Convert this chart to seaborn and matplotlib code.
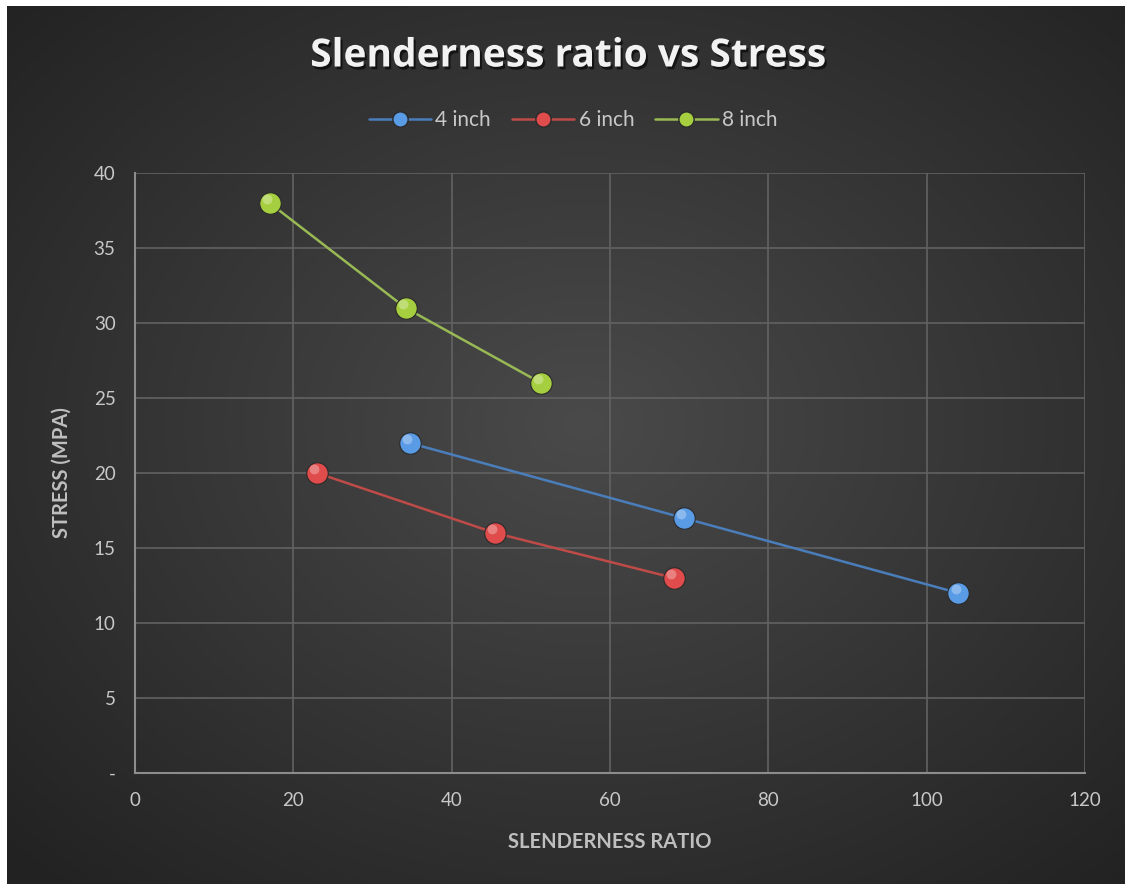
import numpy as np
import pandas as pd
import matplotlib
matplotlib.use("Agg")
import matplotlib.pyplot as plt
import matplotlib.patheffects as pe
from matplotlib.patches import Rectangle
import seaborn as sns

# ---- data ----
series_names = ["4 inch", "6 inch", "8 inch"]
x_4in = [34.7, 69.3, 104.0]
y_4in = [22.0, 17.0, 12.0]
x_6in = [23.0, 45.5, 68.1]
y_6in = [20.0, 16.0, 13.0]
x_8in = [17.0, 34.2, 51.3]
y_8in = [38.0, 31.0, 26.0]
x_ticks = [0, 20, 40, 60, 80, 100, 120]
y_ticks = [0, 5, 10, 15, 20, 25, 30, 35, 40]
y_tick_labels = ["-", "5", "10", "15", "20", "25", "30", "35", "40"]

line_colors = {"4 inch": "#4a7ebb", "6 inch": "#be4b48", "8 inch": "#98b954"}
marker_colors = {"4 inch": "#5a9be6", "6 inch": "#e04b4b", "8 inch": "#a5cf3e"}

df = pd.concat([
    pd.DataFrame({"x": x_4in, "y": y_4in, "series": "4 inch"}),
    pd.DataFrame({"x": x_6in, "y": y_6in, "series": "6 inch"}),
    pd.DataFrame({"x": x_8in, "y": y_8in, "series": "8 inch"}),
], ignore_index=True)

sns.set_theme(style="dark")
plt.rcParams["font.family"] = ["Lato", "DejaVu Sans"]

W, H = 1125, 884
fig = plt.figure(figsize=(W / 100, H / 100), dpi=100)
fig.patch.set_facecolor("#232323")

# background radial gradient panel
bg = fig.add_axes([0, 0, 1, 1], zorder=-5)
yy, xx = np.mgrid[0:1:300j, 0:1:400j]
cx, cy = 0.52, 0.48
r = np.sqrt(((xx - cx) / 0.75) ** 2 + ((yy - cy) / 0.75) ** 2)
light = np.array([0x4a, 0x4a, 0x4a]) / 255
dark = np.array([0x22, 0x22, 0x22]) / 255
t = np.clip(r / 0.95, 0, 1)[..., None]
img = light * (1 - t) + dark * t
bg.imshow(img, aspect="auto", extent=[0, 1, 0, 1], interpolation="bilinear")
bg.set_xlim(0, 1)
bg.set_ylim(0, 1)
bg.set_axis_off()
# thin white page strips (top and left) of the cropped document
bg.add_patch(Rectangle((0, 1 - 6 / H), 1, 6 / H + 0.01, color="white", lw=0))
bg.add_patch(Rectangle((0, 0), 7 / W, 1, color="white", lw=0))

ax = fig.add_axes([135 / W, 1 - 773 / H, (1085 - 135) / W, (773 - 173) / H])
ax.set_facecolor("none")

sns.lineplot(data=df, x="x", y="y", hue="series", palette=line_colors,
             sort=False, lw=1.8, ax=ax, legend=False, zorder=2)
for name in series_names:
    sub = df[df["series"] == name]
    ax.scatter(sub["x"], sub["y"], s=240, color=marker_colors[name],
               edgecolors="#2a2a2a", linewidths=0.8, zorder=3)
    ax.scatter(sub["x"] - 0.35, sub["y"] + 0.25, s=50, color="white",
               alpha=0.3, linewidths=0, zorder=4)

ax.set_xlim(0, 120)
ax.set_ylim(0, 40)
ax.set_xticks(x_ticks)
ax.set_yticks(y_ticks)
ax.set_yticklabels(y_tick_labels)
ax.grid(True, color="#626262", lw=1.2)
ax.tick_params(colors="#c8c8c8", labelsize=13.5, length=0, pad=14)
for s in ["top", "right"]:
    ax.spines[s].set_visible(False)
for s in ["left", "bottom"]:
    ax.spines[s].set_visible(True)
    ax.spines[s].set_color("#8c8c8c")
    ax.spines[s].set_linewidth(1.5)

ax.set_xlabel("SLENDERNESS RATIO", color="#bfbfbf", fontsize=14.5,
              fontweight="bold", labelpad=16)
ax.set_ylabel("STRESS (MPA)", color="#bfbfbf", fontsize=14.5,
              fontweight="bold", labelpad=16)

fig.text(568 / W, 1 - 56 / H, "Slenderness ratio vs Stress", ha="center",
         va="center", fontsize=28, fontweight="bold", color="#f2f2f2",
         family=["Open Sans", "DejaVu Sans"],
         path_effects=[pe.withSimplePatchShadow(offset=(1.5, -2),
                                                shadow_rgbFace="black",
                                                alpha=0.6)])

handles = [plt.Line2D([], [], color=line_colors[n], lw=1.8, marker="o",
                      markersize=11, markerfacecolor=marker_colors[n],
                      markeredgecolor="#2a2a2a") for n in series_names]
leg = fig.legend(handles, series_names, loc="center", ncol=3,
                 bbox_to_anchor=(573 / W, 1 - 120 / H), frameon=False,
                 fontsize=15, handlelength=3.0, columnspacing=1.0,
                 handletextpad=0.2)
for txt in leg.get_texts():
    txt.set_color("#c8c8c8")

fig.savefig("out.png", dpi=100, facecolor=fig.get_facecolor())
